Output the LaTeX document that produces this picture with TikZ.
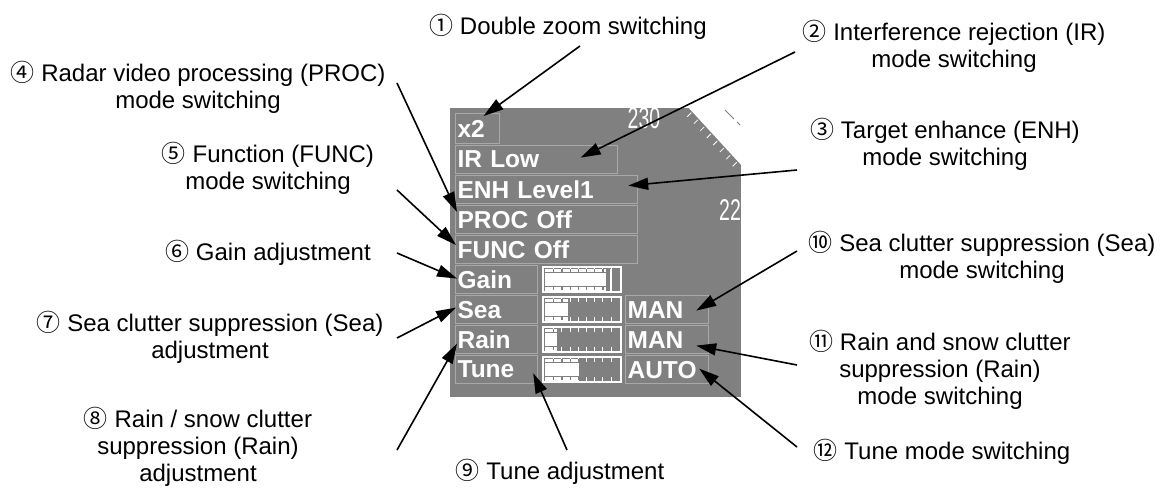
\documentclass[tikz,border=0pt]{standalone}
\usepackage{fontspec}
\setmainfont{Liberation Sans}
\newfontfamily\circfont{Noto Sans CJK JP}
\newfontfamily\uifont{Liberation Sans}
\usetikzlibrary{arrows.meta}
\usepackage{xcolor}
\definecolor{panelgray}{RGB}{128,128,128}
\definecolor{boxedge}{RGB}{168,168,168}
\newcommand{\cn}[1]{{\circfont #1}}
\tikzset{
  lbl/.style={font=\fontsize{24}{27}\selectfont, align=center, inner sep=0pt},
  uibox/.style={draw=boxedge, fill=panelgray, line width=1.2pt, anchor=north west,
    minimum height=28pt, inner xsep=2pt, inner ysep=0pt, text width=#1, align=left,
    text=white, font=\uifont\bfseries\fontsize{24.5}{25}\selectfont},
  callout/.style={draw, line width=1.6pt, -{Triangle[length=20pt,width=12pt]}},
  dial/.style={text=white, font=\fontsize{30}{30}\selectfont, xscale=0.65, inner sep=0pt}
}

\begin{document}
\begin{tikzpicture}[x=1pt, y=-1pt]
  \useasboundingbox (0,0) rectangle (1161,488);

  % radar display panel
  \fill[panelgray] (450,108) rectangle (741,397);
  \begin{scope}
    \clip (450,108) rectangle (741,397);
    \fill[white] (687,106) -- (743,106) -- (743,167) -- cycle;
    \foreach \t in {0.08,0.2,0.32,0.44,0.56,0.68,0.8,0.92}
      \draw[white, line width=0.8pt] ({687+54*\t},{108+59*\t}) -- ++(-4,4);
    \draw[panelgray, line width=1pt] (725,110) -- (734,119) (737,122) -- (740,125);
    \node[dial, anchor=base] (rng230) at (644,128) {230};
    \node[dial, anchor=base east] (rng22) at (741,220) {22};
  \end{scope}

  % buttons
  \node[uibox=40, minimum height=30pt] (btnzoom) at (455,113) {x2};
  \node[uibox=158] (btnir)   at (455,145) {IR Low};
  \node[uibox=178] (btnenh)  at (455,175) {ENH Level1};
  \node[uibox=178] (btnproc) at (455,205) {PROC Off};
  \node[uibox=178] (btnfunc) at (455,235) {FUNC Off};
  \node[uibox=78] (btngain) at (455,265) {Gain};
  \node[uibox=78] (btnsea)  at (455,295) {Sea};
  \node[uibox=78] (btnrain) at (455,325) {Rain};
  \node[uibox=78] (btntune) at (455,355) {Tune};
  \node[uibox=79] (modesea)  at (625,295) {MAN};
  \node[uibox=79] (moderain) at (625,325) {MAN};
  \node[uibox=79] (modetune) at (625,355) {AUTO};

  % level bars
  \foreach \ry/\fx in {265/606,295/568,325/557,355/579}{
    \draw[white, line width=1.2pt] (543,\ry+2) rectangle (621,\ry+27);
    \foreach \k in {1,...,8}
      \draw[white, line width=1pt] ({545.5+8.2*\k},\ry+3) -- ++(0,4)
        ({545.5+8.2*\k},\ry+26) -- ++(0,-4);
    \fill[white] (545,\ry+3.5) rectangle (\fx,\ry+25.5);
    \draw[panelgray, line width=0.8pt] (545,\ry+7.5) -- (\fx,\ry+7.5)
      (545,\ry+21.5) -- (\fx,\ry+21.5);
    \draw[panelgray, line width=3.5pt, dash pattern=on 1.2pt off 7pt]
      (553.1,\ry+5.5) -- (\fx,\ry+5.5) (553.1,\ry+23.5) -- (\fx,\ry+23.5);
  }
  \draw[white, line width=1.5pt] (611,269) -- (611,291);

  % callout texts
  \node[lbl] (lblzoom) at (568,27) {\cn{①} Double zoom switching};
  \node[lbl] (lblir) at (954,46) {\cn{②} Interference rejection (IR)\\mode switching};
  \node[lbl] (lblenh) at (945,144) {\cn{③} Target enhance (ENH)\\mode switching};
  \node[lbl] (lblproc) at (198,87) {\cn{④} Radar video processing (PROC)\\mode switching};
  \node[lbl] (lblfunc) at (268,168) {\cn{⑤} Function (FUNC)\\mode switching};
  \node[lbl] (lblgain) at (268,253) {\cn{⑥} Gain adjustment};
  \node[lbl] (lblsea) at (210,337) {\cn{⑦} Sea clutter suppression (Sea)\\adjustment};
  \node[lbl] (lblrain) at (198,447) {\cn{⑧} Rain / snow clutter\\suppression (Rain)\\adjustment};
  \node[lbl] (lbltune) at (560,472) {\cn{⑨} Tune adjustment};
  \node[lbl] (lblseamode) at (982,257) {\cn{⑩} Sea clutter suppression (Sea)\\mode switching};
  \node[lbl] (lblrainmode) at (940,370) {\cn{⑪} Rain and snow clutter\\suppression (Rain)\\mode switching};
  \node[lbl] (lbltunemode) at (942,452) {\cn{⑫} Tune mode switching};

  % arrow tails
  \coordinate (tzoom) at (580,46);
  \coordinate (tir) at (795,52);
  \coordinate (tenh) at (797,170);
  \coordinate (tproc) at (397,83);
  \coordinate (tfunc) at (397,190);
  \coordinate (tgain) at (397,253);
  \coordinate (tsea) at (397,338);
  \coordinate (train) at (397,450);
  \coordinate (ttune) at (567,450);
  \coordinate (tseamode) at (797,251);
  \coordinate (trainmode) at (797,365);
  \coordinate (ttunemode) at (797,447);

  \draw[callout] (tzoom) -- ([shift={(6,3)}]btnzoom.north);
  \draw[callout] (tir) -- ([shift={(44,-2)}]btnir.center);
  \draw[callout] (tenh) -- ([shift={(-10,-4)}]btnenh.east);
  \draw[callout] (tproc) -- ([shift={(2,7)}]btnproc.north west);
  \draw[callout] (tfunc) -- ([shift={(1,10)}]btnfunc.north west);
  \draw[callout] (tgain) -- ([shift={(2,-1)}]btngain.west);
  \draw[callout] (tsea) -- ([shift={(1,-2)}]btnsea.west);
  \draw[callout] (train) -- ([shift={(2,4)}]btnrain.west);
  \draw[callout] (ttune) -- ([shift={(-5,-11)}]btntune.south east);
  \draw[callout] (tseamode) -- ([shift={(-13,1)}]modesea.east);
  \draw[callout] (trainmode) -- ([shift={(-13,6)}]moderain.east);
  \draw[callout] (ttunemode) -- ([shift={(-10,-1)}]modetune.east);
\end{tikzpicture}
\end{document}
